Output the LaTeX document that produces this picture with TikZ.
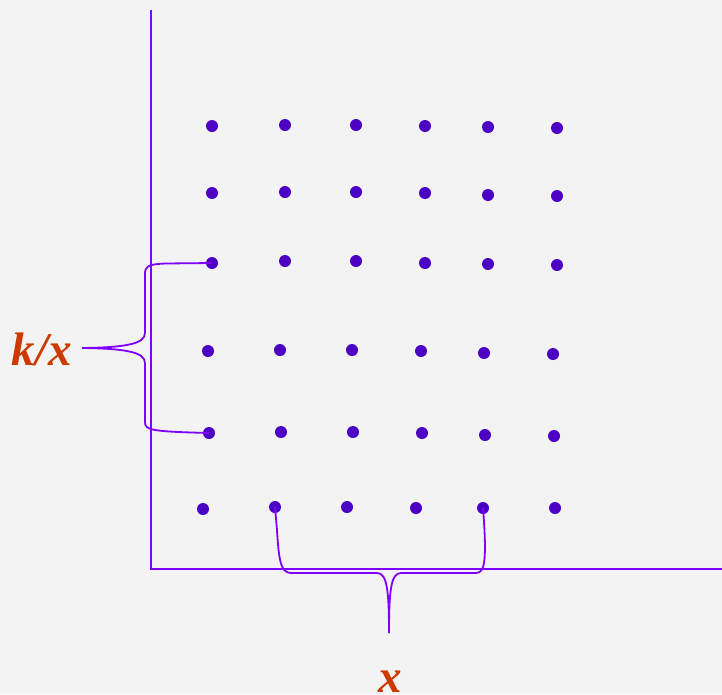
\documentclass[tikz,border=0pt]{standalone}
\usepackage{fontspec}
\setmainfont{Liberation Serif}
\definecolor{bg}{HTML}{F3F3F3}
\definecolor{axis}{HTML}{7F00FF}
\definecolor{dotc}{HTML}{4B00C4}
\definecolor{lab}{HTML}{CC3A00}
\begin{document}
\begin{tikzpicture}[x=1pt,y=-1pt,
  dot/.style={circle,fill=dotc,inner sep=0pt,minimum size=12pt},
  axisline/.style={draw=axis,line width=1.8pt},
  bracel/.style={draw=axis,line width=1.8pt},
  lbl/.style={text=lab,font=\fontsize{47}{50}\selectfont\bfseries\itshape,inner sep=0pt}]
\fill[bg] (0,0) rectangle (722,694);
\useasboundingbox (0,0) rectangle (722,694);
% axes
\coordinate (ytop) at (151,10);
\coordinate (org) at (151,569);
\coordinate (xend) at (722,569);
\draw[axisline] (ytop) -- (org) -- (xend);
% dots
\node[dot] (d11) at (212,126) {};
\node[dot] (d12) at (285,125) {};
\node[dot] (d13) at (356,125) {};
\node[dot] (d14) at (425,126) {};
\node[dot] (d15) at (488,127) {};
\node[dot] (d16) at (557,128) {};
\node[dot] (d21) at (212,193) {};
\node[dot] (d22) at (285,192) {};
\node[dot] (d23) at (356,192) {};
\node[dot] (d24) at (425,193) {};
\node[dot] (d25) at (488,195) {};
\node[dot] (d26) at (557,196) {};
\node[dot] (d31) at (212,263) {};
\node[dot] (d32) at (285,261) {};
\node[dot] (d33) at (356,261) {};
\node[dot] (d34) at (425,263) {};
\node[dot] (d35) at (488,264) {};
\node[dot] (d36) at (557,265) {};
\node[dot] (d41) at (208,351) {};
\node[dot] (d42) at (280,350) {};
\node[dot] (d43) at (352,350) {};
\node[dot] (d44) at (421,351) {};
\node[dot] (d45) at (484,353) {};
\node[dot] (d46) at (553,354) {};
\node[dot] (d51) at (209,433) {};
\node[dot] (d52) at (281,432) {};
\node[dot] (d53) at (353,432) {};
\node[dot] (d54) at (422,433) {};
\node[dot] (d55) at (485,435) {};
\node[dot] (d56) at (554,436) {};
\node[dot] (d61) at (203,509) {};
\node[dot] (d62) at (275,507) {};
\node[dot] (d63) at (347,507) {};
\node[dot] (d64) at (416,508) {};
\node[dot] (d65) at (483,508) {};
\node[dot] (d66) at (555,508) {};
% labels
\node[lbl] (kx) at (42,349) {k/x};
\node[lbl,anchor=base] (xl) at (390,692) {x};
% left brace
\coordinate (ltip) at (82,348);
\draw[bracel] (d31.center) -- (165,263.5) .. controls (147,264.5) and (145,266) .. (145,275)
  -- (145,333) .. controls (145,344) and (125,347.5) .. (ltip);
\draw[bracel] (ltip) .. controls (125,348.5) and (145,352) .. (145,363)
  -- (145,422) .. controls (145,430) and (150,431.5) .. (d51.center);
% bottom brace
\coordinate (btip) at (389,633);
\draw[bracel] (d62.center) -- (277,530) .. controls (279,566) and (282,573) .. (292,573)
  -- (377,573) .. controls (387,573) and (389,590) .. (btip);
\draw[bracel] (btip) .. controls (389,590) and (391,573) .. (401,573)
  -- (476,573) .. controls (485,573) and (487,560) .. (d65.center);
\end{tikzpicture}
\end{document}
